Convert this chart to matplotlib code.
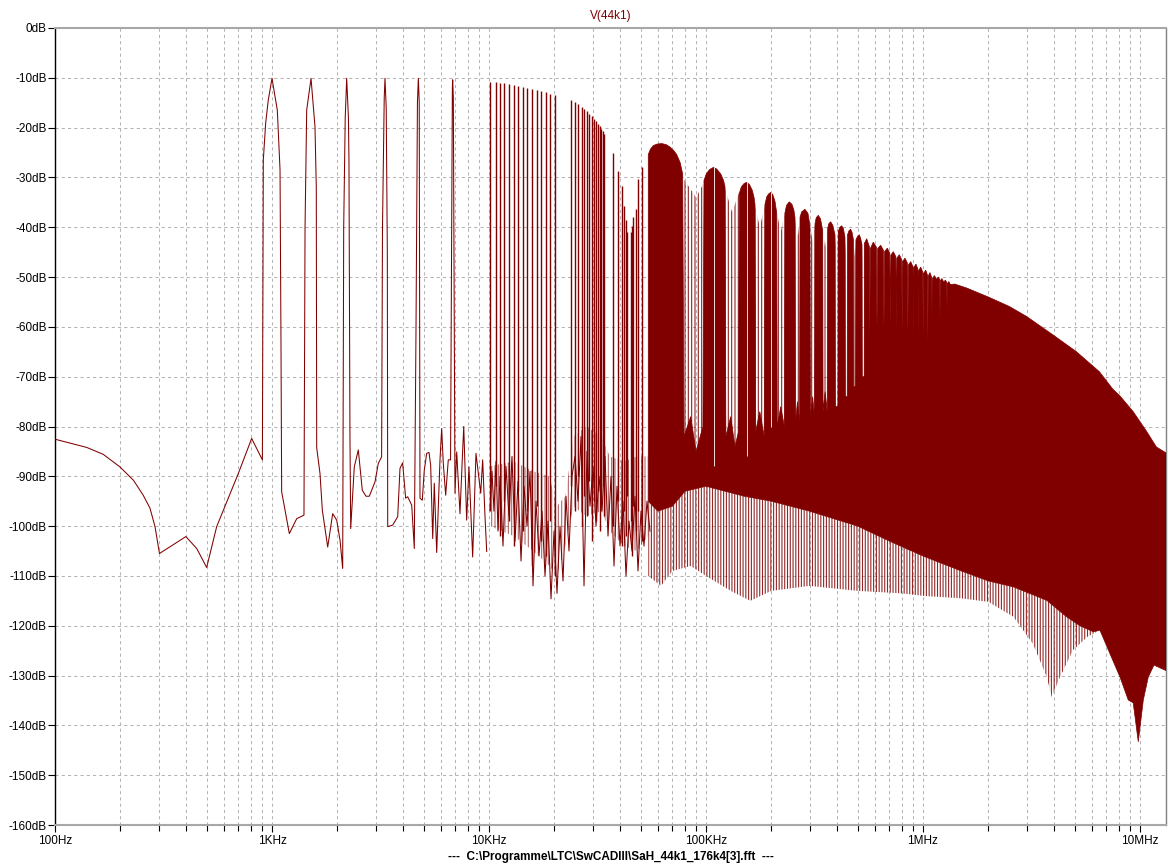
import numpy as np
import matplotlib
matplotlib.use("Agg")
import matplotlib.pyplot as plt
from matplotlib.ticker import FixedLocator, FixedFormatter, NullFormatter

plt.rcParams['font.family'] = ['Liberation Sans', 'DejaVu Sans']
plt.rcParams['hatch.linewidth'] = 0.8
plt.rcParams['hatch.color'] = '#800000'

RED = '#800000'

# ---------------- data ----------------
# low-frequency trace (Hz, dB), including the six tone lobes
lf_freq = [101, 140, 167, 199, 230, 255, 274, 289, 303, 401, 450, 500, 556, 597, 700, 806, 903,
           912, 935, 961, 1000, 1058, 1089, 1100, 1108, 1202, 1300, 1404,
           1420, 1445, 1513, 1578, 1600, 1607, 1664, 1706, 1806, 1904, 1987, 2058, 2117,
           2140, 2175, 2209, 2250, 2263, 2287, 2305, 2395, 2499, 2607, 2712, 2808, 2984, 3090, 3200,
           3230, 3290, 3317, 3360, 3400, 3414, 3598, 3796, 3889, 4000, 4130, 4220, 4404, 4527,
           4610, 4680, 4725, 4770, 4809, 4927, 5032, 5162, 5290, 5386, 5504, 5597, 5741, 5945, 6053,
           6157, 6316, 6492, 6650,
           6730, 6780, 6802, 6850, 6970, 7100, 7350, 7564, 7650, 7890, 8085, 8410, 8710, 9160, 9350,
           9586, 9760]
lf_db = [-82.6, -84.2, -85.6, -88.1, -90.8, -93.8, -96.4, -100.1, -105.5, -102.1, -104.5, -108.3, -100.1,
         -96.8, -89.4, -82.4, -86.7,
         -26.5, -19.1, -14.5, -10.1, -16.5, -28.5, -63.0, -93.1, -101.5, -98.5, -97.8,
         -40.0, -16.5, -10.1, -19.8, -31.9, -84.3, -89.4, -96.8, -104.2, -97.5, -98.8, -102.8, -108.5,
         -40.0, -18.0, -10.1, -18.0, -26.5, -82.0, -100.5, -88.1, -84.7, -92.8, -94.0, -94.0, -91.1, -87.4, -86.1,
         -40.0, -14.0, -10.1, -16.0, -45.0, -100.1, -99.8, -98.1, -88.4, -87.3, -94.4, -94.1, -95.8, -104.5,
         -60.0, -15.0, -10.1, -15.0, -94.4, -94.8, -88.8, -85.4, -85.2, -87.8, -102.5, -91.4, -105.3, -86.7, -80.4,
         -87.4, -93.8, -86.7, -86.7,
         -40.0, -12.0, -10.4, -14.0, -93.4, -85.1, -97.5, -84.7, -80.0, -98.8, -88.1, -106.2, -85.4, -93.4, -86.7,
         -98.1, -105.1]

# noise floor trace 10 kHz .. 55 kHz
noise_freq = [10100, 10323, 10545, 10771, 11000, 11237, 11601, 11976, 12367, 12765, 13180, 13606,
              14048, 14500, 14970, 15455, 15955, 16471, 17003, 17555, 18121, 18708, 19310, 19937,
              20580, 21247, 21934, 22643, 23375, 24131, 24912, 25718, 26550, 27409, 28294, 29210,
              30154, 31130, 32136, 33176, 34248, 35356, 36499, 37680, 38897, 40156, 41454, 42796,
              44178, 45608, 47082, 48606, 50177, 51801, 53475, 55206]
noise_db = [-96.8, -89, -97, -87, -101, -90, -104, -88, -98, -86, -103, -91,
            -107, -92, -100, -89, -112, -95, -106, -97, -110, -99, -114.6, -101,
            -113.5, -100, -111, -94, -105, -90, -86, -95, -82, -112, -85, -96,
            -88, -100, -90, -97, -86, -102, -90, -108, -92, -104, -95, -110,
            -99, -105, -94, -109, -97, -104, -95, -101]

# dense noise band 10 kHz .. 55 kHz (upper / lower edge)
band_freq = [10100, 13000, 16000, 19000, 20500, 22500, 24500, 28000, 33000, 36000, 42000, 48000, 54200]
band_hi = [-88, -87, -89, -90, -96, -94, -82, -80, -82, -86, -87, -86, -86]
band_lo = [-100, -102, -105, -108, -110, -104, -96, -98, -97, -101, -104, -105, -102]

# tones 10 kHz .. 20 kHz (peak and foot of each line)
tone_freq = [10100, 10737, 11237, 11763, 12367, 13037, 13646, 14300, 15018, 15784, 16593, 17418,
             18253, 19167, 20150]
tone_db = [-10.8, -10.9, -11.0, -11.1, -11.2, -11.4, -11.6, -11.8, -12.0, -12.2, -12.4, -12.7,
           -12.9, -13.2, -13.4]
tone_foot = [-97, -92, -102, -95, -99, -104, -93, -101, -97, -108, -96, -103, -106, -99, -110]
# their images below 44.1 kHz
alias_freq = [24000, 24900, 25850, 26700, 27500, 28250, 29000, 29800, 30450, 31050, 31750, 32350,
              32900, 33400, 34000]
alias_db = [-14.5, -14.9, -15.3, -15.8, -16.2, -16.7, -17.2, -17.7, -18.2, -18.7, -19.2, -19.7,
            -20.2, -20.7, -21.2]
alias_foot = [-92, -97, -90, -100, -94, -98, -91, -103, -95, -99, -93, -101, -96, -92, -98]
# images of the low tones around 44.1 kHz
image_freq = [37300, 39400, 40800, 41900, 42600, 43100, 45100, 45600, 46300, 47400, 48800, 50900]
image_db = [-25.1, -28.7, -31.8, -35.7, -38.5, -41.0, -41.0, -39.7, -38.0, -36.4, -30.4, -27.9]
image_foot = [-100, -95, -104, -97, -102, -94, -99, -106, -96, -101, -97, -103]

# upper edge of the solid spectrum (lobes) 54 kHz .. 13.2 MHz
top_freq = [54200, 54200, 55500, 57200, 59500, 62500, 65500, 68300, 71000, 73300, 76000, 78100, 79200,
            85000, 90000, 96800,
            97900, 100500, 104000, 108000, 112000, 117000, 120500, 122400, 123500,
            130000, 136000, 141300,
            142400, 145500, 150000, 154000, 158500, 163500, 166500, 168200, 169500,
            177000, 185500,
            187000, 190500, 194500, 198700, 203000, 208000, 211800, 213000,
            221000, 229800,
            231200, 235000, 242000, 249000, 254000, 257100, 258500,
            264000, 269800,
            271200, 276000, 285900, 295000, 301500, 303000,
            310000, 316500,
            318000, 322000, 329300, 337000, 345000, 346500,
            354000, 362000,
            363800, 368000, 375500, 384000, 393100, 394500,
            405500, 407000, 414000, 422000, 430000, 437000, 438500,
            447500, 449000, 456000, 464000, 471000, 478000, 479500,
            489500, 491000, 500000, 508800, 516000, 523500, 525000,
            536000, 537500, 550500, 567000, 568500,
            572000, 590000, 610000, 614000, 618000, 638000, 657000, 661000, 665000, 685000,
            703000, 707000, 711000, 730000, 750000, 754000, 758000, 778000, 798000, 802000,
            806000, 826000, 848000, 852000, 856000, 878000, 899000, 903000, 907000, 928000,
            948000, 952000, 956000, 976000, 998000, 1002000, 1006000, 1029000, 1049000, 1053000,
            1057000, 1077000, 1098000, 1102000, 1106000, 1128000,
            1148000, 1152000, 1156000, 1176000, 1194000, 1198000, 1202000, 1222000, 1240000,
            1244000, 1248000, 1268000, 1287000, 1291000, 1295000, 1315000, 1334000, 1338000,
            1342000,
            1400000, 1590000, 2000000, 2500000, 3000000, 4000000, 5100000, 6500000,
            7500000, 8100000, 9300000, 10700000, 11900000, 13180000]
top_db = [-95, -25.4, -24.3, -23.6, -23.3, -23.2, -23.4, -23.9, -24.6, -25.4, -27.0, -29.3, -82,
          -78, -85, -80,
          -30.6, -29.2, -28.4, -28.0, -28.3, -29.3, -30.6, -31.9, -82,
          -78, -84, -81,
          -33.2, -31.9, -31.2, -31.0, -31.4, -32.6, -34.0, -35.4, -81,
          -77, -82,
          -35.4, -33.9, -33.3, -33.0, -33.4, -34.8, -37.1, -80,
          -76, -80,
          -37.1, -35.6, -34.9, -35.4, -36.5, -38.0, -79,
          -75, -79,
          -38.0, -36.9, -36.4, -37.2, -39.7, -78,
          -74, -78,
          -39.3, -38.1, -37.6, -38.3, -40.6, -77,
          -73, -77,
          -40.2, -39.3, -38.9, -39.6, -41.5, -76,
          -76, -40.8, -40.0, -39.7, -40.3, -42.0, -74,
          -74, -41.5, -40.7, -40.4, -41.0, -42.5, -72,
          -72, -42.5, -41.8, -41.5, -42.2, -43.5, -70,
          -70, -43.2, -42.3, -44.0, -62,
          -44.3, -43.0, -44.0, -60, -44.3, -43.6, -44.6, -60, -44.9, -44.2,
          -45.2, -60, -45.6, -44.9, -45.9, -60, -46.2, -45.5, -46.5, -61,
          -46.9, -46.2, -47.2, -61, -47.6, -46.9, -47.9, -62, -48.1, -47.4,
          -48.4, -62, -48.7, -48.0, -49.0, -62, -49.3, -48.6, -49.6, -63,
          -49.8, -49.1, -50.1, -63, -50.4, -49.7,
          -50.2, -60, -50.4, -50.0, -50.5, -59, -50.7, -50.3, -50.8,
          -58, -51.0, -50.6, -51.1, -57, -51.3, -50.9, -51.4, -56,
          -51.5,
          -51.4, -52.2, -54.0, -55.9, -57.9, -61.7, -65.0, -69.0,
          -72.5, -73.9, -77.0, -80.9, -84.1, -85.3]

# white slits in the middle of the first lobes
slit_freq = [109000, 154500, 199000]
slit_top = [-28.0, -31.0, -33.0]
slit_bottom = [-88, -86, -80]

# lower edge of the solid spectrum
bot_freq = [54200, 60000, 70000, 80000, 100000, 150000, 200000, 300000, 500000, 700000, 1000000,
            1500000, 2000000, 2610000, 3720000, 4590000, 5290000, 6090000, 6540000, 7270000,
            8090000, 8830000, 9310000, 9820000, 10360000, 10920000, 11600000, 13180000]
bot_db = [-95, -97, -96, -93, -92, -94, -95, -97, -100, -103, -106,
          -109, -111, -112.2, -114.9, -118.2, -120.0, -121.2, -120.9, -125.6,
          -130.3, -134.9, -135.5, -143.3, -134.9, -130.3, -127.9, -129.0]

# tips of the thin lines hanging below the solid spectrum
tip_freq = [54200, 62000, 70000, 85000, 100000, 130000, 160000, 200000, 300000, 500000, 800000,
            1000000, 1500000, 2000000, 2610000, 3210000, 3720000, 3920000, 4280000, 4910000,
            5730000, 6540000]
tip_db = [-110, -112, -109, -108, -110, -113, -115, -113, -112, -113, -113.5,
          -114, -114.5, -115.2, -118.2, -123.6, -130.3, -134.3, -130.3, -124.9,
          -122.2, -120.9]

# heights of the thin lines in the gaps between the first lobes
gap_freq = [78000, 90000, 98000, 122000, 132000, 142000, 168000, 177000, 187000, 212000, 221000,
            231000, 257000, 265000, 271000, 302000, 310000, 318000, 345000, 354000, 364000,
            393000, 400000, 407000, 437000, 443000, 449000, 478000, 485000, 491000, 524000,
            530000, 538000, 567000]
gap_db = [-30, -34, -31, -32, -37, -33, -35.5, -40, -35.5, -37, -41, -37, -38, -42, -38,
          -39.7, -43, -39.3, -40.6, -44, -40.2, -41.5, -45, -40.8, -42, -46, -41.5,
          -42.5, -46, -42.5, -43.5, -47, -43.2, -44]

x_tick_vals = [100, 1e3, 1e4, 1e5, 1e6, 1e7]
x_tick_labels = ['100Hz', '1KHz', '10KHz', '100KHz', '1MHz', '10MHz']
y_tick_vals = list(range(-160, 1, 10))
y_tick_labels = ['%ddB' % v for v in y_tick_vals]

# ---------------- figure ----------------
W, H = 1169, 866
fig = plt.figure(figsize=(W / 100, H / 100), dpi=100)
L, R, T, B = 55, 1166, 28, 825
ax = fig.add_axes([L / W, (H - B) / H, (R - L) / W, (B - T) / H])
ax.set_xscale('log')
ax.set_xlim(100, 1.318e7)
ax.set_ylim(-160, 0)
ax.set_axisbelow(True)

grid_kw = dict(color='#b4b4b4', linewidth=0.75, linestyle=(0, (3, 3)))
ax.grid(True, which='both', axis='x', **grid_kw)
ax.grid(True, which='major', axis='y', **grid_kw)

ax.xaxis.set_major_locator(FixedLocator(x_tick_vals))
ax.xaxis.set_major_formatter(FixedFormatter(x_tick_labels))
minors = [m * 10.0 ** e for e in range(2, 8) for m in range(2, 10) if m * 10.0 ** e < 1.318e7]
ax.xaxis.set_minor_locator(FixedLocator(minors))
ax.xaxis.set_minor_formatter(NullFormatter())
ax.yaxis.set_major_locator(FixedLocator(y_tick_vals))
ax.yaxis.set_major_formatter(FixedFormatter(y_tick_labels))
ax.yaxis.set_minor_locator(FixedLocator([]))

ax.tick_params(axis='x', which='major', length=5, width=0.8, color='black', pad=2.5,
               labelsize=8.5, direction='out')
ax.tick_params(axis='x', which='minor', length=4.5, width=0.8, color='black', direction='out')
ax.tick_params(axis='y', which='major', length=5, width=0.8, color='black', pad=1,
               labelsize=8.5, direction='out')

for side in ('top', 'bottom'):
    ax.spines[side].set_color('#a8a8a8')
    ax.spines[side].set_linewidth(1.5)
ax.spines['right'].set_color('#808080')
ax.spines['right'].set_linewidth(1.0)
ax.spines['left'].set_color('black')
ax.spines['left'].set_linewidth(1.0)

# dense noise band (many thin lines)
bx = list(band_freq) + list(band_freq)[::-1]
by = list(band_hi) + list(band_lo)[::-1]
ax.fill(bx, by, facecolor='none', edgecolor=RED, hatch='|||||', linewidth=0, alpha=0.6, zorder=2)

# thin lines between lobes
gx = list(gap_freq) + [gap_freq[-1], gap_freq[0]]
gy = list(gap_db) + [-85, -85]
ax.fill(gx, gy, facecolor='none', edgecolor=RED, hatch='|||||', linewidth=0, alpha=0.85, zorder=2)

# thin lines below the solid area
hx = list(bot_freq[:19]) + list(tip_freq)[::-1]
hy = list(bot_db[:19]) + list(tip_db)[::-1]
ax.fill(hx, hy, facecolor='none', edgecolor=RED, hatch='||||||', linewidth=0, alpha=0.85, zorder=2)

# solid spectrum
sx = list(top_freq) + list(bot_freq)[::-1]
sy = list(top_db) + list(bot_db)[::-1]
ax.fill(sx, sy, facecolor=RED, edgecolor=RED, linewidth=0.5, zorder=3)
ax.vlines(slit_freq, slit_bottom, slit_top, color='white', linewidth=0.6, zorder=3.5)

# spikes
ax.vlines(tone_freq, tone_foot, tone_db, color=RED, linewidth=1.0, zorder=4)
ax.vlines(alias_freq, alias_foot, alias_db, color=RED, linewidth=1.0, zorder=4)
ax.vlines(image_freq, image_foot, image_db, color=RED, linewidth=1.0, zorder=4)

# traces
ax.plot(lf_freq, lf_db, color=RED, linewidth=0.75, zorder=4)
ax.plot(noise_freq, noise_db, color=RED, linewidth=0.75, zorder=4)

cx = (L + R) / 2 / W
fig.text(cx, (H - 15.5) / H, 'V(44k1)', color=RED, ha='center', va='center', fontsize=8.5)
fig.text(cx, (H - 857) / H, '---  C:\\Programme\\LTC\\SwCADIII\\SaH_44k1_176k4[3].fft  ---',
         color='black', ha='center', va='center', fontsize=8.5, fontweight='bold')

fig.savefig('out.png', dpi=100)
